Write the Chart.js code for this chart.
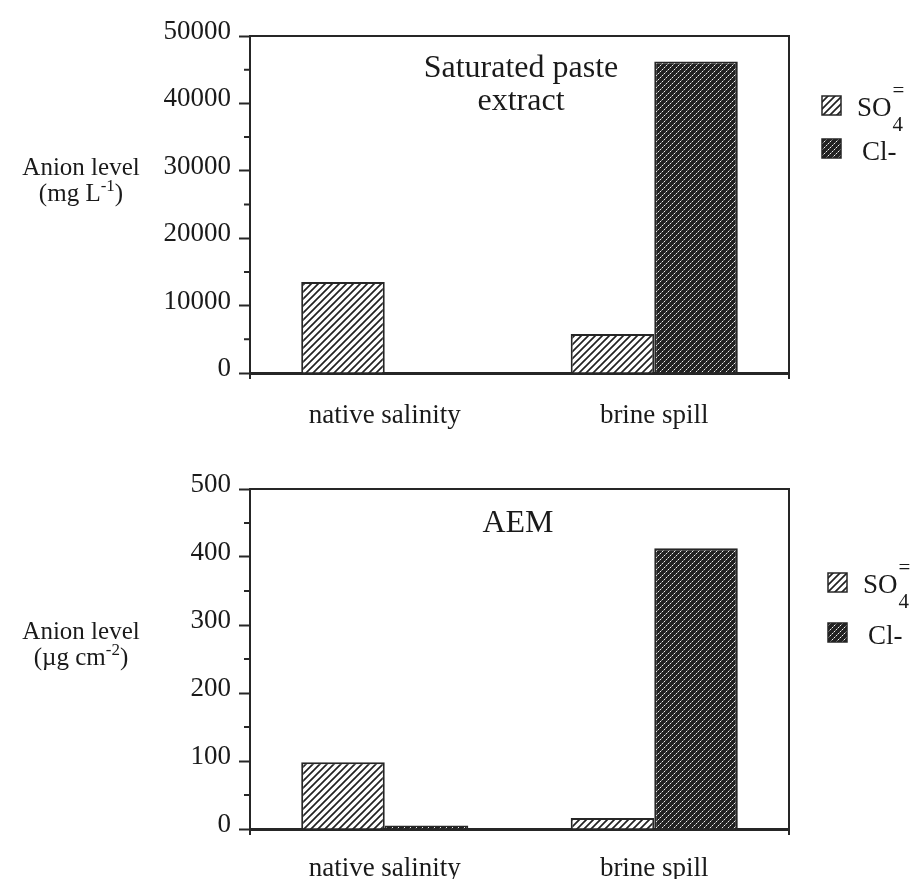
<!DOCTYPE html>
<html>
<head>
<meta charset="utf-8">
<script src="https://cdn.jsdelivr.net/npm/chart.js@4.4.0/dist/chart.umd.min.js"></script>
<style>
body { margin: 0; background: #fff; }
#wrap { position: relative; width: 919px; height: 879px; }
canvas { position: absolute; left: 0; }
#paste { top: 0; width: 919px; height: 440px; }
#aem { top: 440px; width: 919px; height: 439px; }
</style>
</head>
<body>
<div id="wrap">
<canvas id="paste" width="919" height="440"></canvas>
<canvas id="aem" width="919" height="439"></canvas>
</div>
<script>
const categories = ['native salinity', 'brine spill'];
const pasteSO4 = [13500, 5800];
const pasteCl = [0, 46200];
const pasteTicks = [0, 10000, 20000, 30000, 40000, 50000];
const aemSO4 = [98, 16];
const aemCl = [5, 413];
const aemTicks = [0, 100, 200, 300, 400, 500];

const ink = '#262626';
const serif = '"Liberation Serif", "DejaVu Serif", serif';
Chart.defaults.font.family = serif;
Chart.defaults.color = '#1a1a1a';

// white with "/" hatching, for SO4
function hatchPattern() {
    const c = document.createElement('canvas');
    c.width = 7; c.height = 7;
    const g = c.getContext('2d');
    g.fillStyle = '#fff';
    g.fillRect(0, 0, 7, 7);
    g.strokeStyle = '#222';
    g.lineWidth = 1.7;
    g.beginPath();
    g.moveTo(-1, 8); g.lineTo(8, -1);
    g.moveTo(-1, 1); g.lineTo(1, -1);
    g.moveTo(6, 8); g.lineTo(8, 6);
    g.stroke();
    return g.createPattern(c, 'repeat');
}

// dark with light dotted "/" lines, for Cl-
function dotPattern() {
    const c = document.createElement('canvas');
    c.width = 6; c.height = 6;
    const g = c.getContext('2d');
    g.fillStyle = '#222';
    g.fillRect(0, 0, 6, 6);
    for (let i = 0; i < 6; i++) {
        g.fillStyle = i % 2 === 0 ? '#f0f0f0' : '#7a7a7a';
        g.fillRect(i, 5 - i, 1, 1);
    }
    return g.createPattern(c, 'repeat');
}

const hatch = hatchPattern();
const dots = dotPattern();

function richText(ctx, segs, x, y, align) {
    let w = 0;
    segs.forEach(s => {
        ctx.font = s.size + 'px ' + serif;
        s.w = ctx.measureText(s.t).width;
        w += s.w;
    });
    let cx = align === 'center' ? x - w / 2 : x;
    segs.forEach(s => {
        ctx.font = s.size + 'px ' + serif;
        ctx.fillText(s.t, cx, y + (s.dy || 0));
        cx += s.w;
    });
}

function decor(o) {
    return {
        id: 'decor',
        afterDraw(chart) {
            const ctx = chart.ctx;
            const a = chart.chartArea;
            const y = chart.scales.y;
            ctx.save();
            ctx.strokeStyle = ink;
            ctx.lineWidth = 2;
            ctx.beginPath();
            ctx.moveTo(a.left, a.top);
            ctx.lineTo(a.right, a.top);
            ctx.lineTo(a.right, a.bottom + 6);
            ctx.moveTo(a.left, a.bottom);
            ctx.lineTo(a.left, a.bottom + 6);
            for (let i = 0; i < o.ticks.length - 1; i++) {
                const py = y.getPixelForValue((o.ticks[i] + o.ticks[i + 1]) / 2);
                ctx.moveTo(a.left - 6, py);
                ctx.lineTo(a.left, py);
            }
            ctx.stroke();

            ctx.fillStyle = '#1a1a1a';
            ctx.textBaseline = 'alphabetic';
            ctx.textAlign = 'left';
            o.title.forEach(([t, x, by]) => richText(ctx, [{t: t, size: 32}], x, by, 'center'));
            o.yTitle.forEach(([segs, x, by]) => richText(ctx, segs, x, by, 'center'));

            // legend
            const L = o.legend;
            [[hatch, L.y1], [dots, L.y2]].forEach(([p, by]) => {
                ctx.fillStyle = p;
                ctx.fillRect(L.x, by, 19, 19);
                ctx.lineWidth = 1.5;
                ctx.strokeRect(L.x, by, 19, 19);
            });
            ctx.fillStyle = '#1a1a1a';
            ctx.font = '27px ' + serif;
            ctx.fillText('SO', L.x + 35, L.y1 + 20);
            const sx = L.x + 35 + ctx.measureText('SO').width + 1;
            ctx.font = '21px ' + serif;
            ctx.fillText('4', sx, L.y1 + 35);
            ctx.fillText('=', sx, L.y1 + 1);
            ctx.font = '27px ' + serif;
            ctx.fillText('Cl-', L.x + 40, L.y2 + 21);
            ctx.restore();
        }
    };
}

function makeChart(id, so4, cl, ticks, o) {
    const canvas = document.getElementById(id);
    o.ticks = ticks;
    return new Chart(canvas.getContext('2d'), {
        type: 'bar',
        data: {
            labels: categories,
            datasets: [
                {label: 'SO4', data: so4, backgroundColor: hatch, borderColor: ink, borderWidth: 2,
                 borderSkipped: 'bottom', categoryPercentage: 0.62, barPercentage: 1},
                {label: 'Cl-', data: cl, backgroundColor: dots, borderColor: ink, borderWidth: 2,
                 borderSkipped: 'bottom', categoryPercentage: 0.62, barPercentage: 1},
            ],
        },
        options: {
            responsive: false,
            animation: false,
            devicePixelRatio: 1,
            layout: {padding: {left: 0, right: 130, top: o.top, bottom: 0}},
            plugins: {legend: {display: false}, tooltip: {enabled: false}},
            scales: {
                x: {
                    grid: {display: false},
                    border: {display: true, color: ink, width: 3},
                    ticks: {font: {size: 27}, padding: o.xPad},
                    afterFit: s => { s.height = o.xHeight; },
                },
                y: {
                    min: 0,
                    max: ticks[ticks.length - 1],
                    grid: {drawOnChartArea: false, drawTicks: true, tickLength: 11, tickWidth: 2, tickColor: ink},
                    border: {display: true, color: ink, width: 2},
                    ticks: {font: {size: 27}, padding: 8, labelOffset: -4, callback: v => String(v)},
                    afterBuildTicks: s => { s.ticks = ticks.map(v => ({value: v})); },
                    afterFit: s => { s.width = 250; },
                },
            },
        },
        plugins: [decor(o)],
    });
}

makeChart('paste', pasteSO4, pasteCl, pasteTicks, {
    top: 36, xHeight: 67, xPad: 19,
    title: [['Saturated paste', 521, 77], ['extract', 521, 110]],
    yTitle: [
        [[{t: 'Anion level', size: 25}], 81, 175],
        [[{t: '(mg L', size: 25}, {t: '-1', size: 17, dy: -10}, {t: ')', size: 25}], 81, 201],
    ],
    legend: {x: 822, y1: 96, y2: 139},
});

makeChart('aem', aemSO4, aemCl, aemTicks, {
    top: 49, xHeight: 50, xPad: 16,
    title: [['AEM', 518, 92]],
    yTitle: [
        [[{t: 'Anion level', size: 25}], 81, 199],
        [[{t: '(\u00b5g cm', size: 25}, {t: '-2', size: 17, dy: -10}, {t: ')', size: 25}], 81, 225],
    ],
    legend: {x: 828, y1: 133, y2: 183},
});
</script>
</body>
</html>
